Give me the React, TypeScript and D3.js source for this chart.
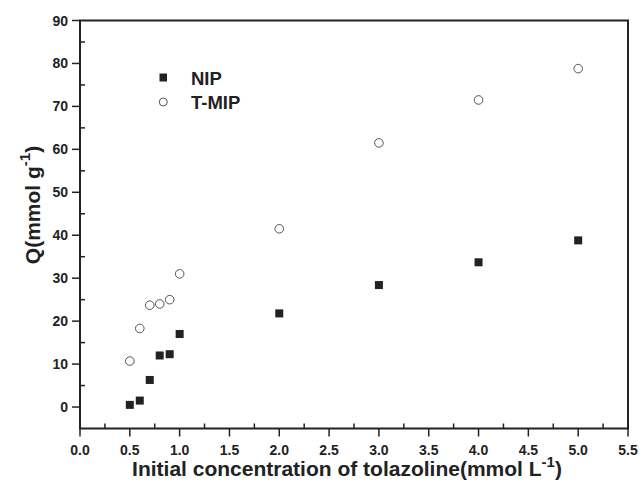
import React from "react";
import * as d3 from "d3";

const concentrations = [0.5, 0.6, 0.7, 0.8, 0.9, 1.0, 2.0, 3.0, 4.0, 5.0];
const nipValues = [0.5, 1.5, 6.3, 12.0, 12.3, 17.0, 21.8, 28.4, 33.7, 38.8];
const tmipValues = [10.7, 18.3, 23.7, 24.0, 25.0, 31.0, 41.5, 61.5, 71.5, 78.8];
const xTicks = [0, 0.5, 1, 1.5, 2, 2.5, 3, 3.5, 4, 4.5, 5, 5.5];
const xMinorTicks = [0.25, 0.75, 1.25, 1.75, 2.25, 2.75, 3.25, 3.75, 4.25, 4.75, 5.25];
const yTicks = [0, 10, 20, 30, 40, 50, 60, 70, 80, 90];
const yMinorTicks = [5, 15, 25, 35, 45, 55, 65, 75, 85];

const W = 640, H = 483;
const L = 80, R = 628, T = 20.5, B = 428.5;
const ink = "#222";
const font = "'Liberation Sans', Arial, sans-serif";

export default function App() {
  const x = d3.scaleLinear().domain([0, 5.5]).range([L, R]);
  const y = d3.scaleLinear().domain([-5, 90]).range([B, T]);
  return (
    <svg width={W} height={H} style={{ position: "absolute", left: 0, top: 0 }} fontFamily={font}>
      <rect x={0} y={0} width={W} height={H} fill="#fff" />
      <rect x={L} y={T} width={R - L} height={B - T} fill="none" stroke={ink} strokeWidth={2} />
      {xTicks.map((t) => (
        <g key={"x" + t}>
          <line x1={x(t)} x2={x(t)} y1={B} y2={B + 8} stroke={ink} strokeWidth={1.5} />
          <text x={x(t)} y={455} textAnchor="middle" fontSize={14} fontWeight="bold" fill={ink}>
            {t.toFixed(1)}
          </text>
        </g>
      ))}
      {xMinorTicks.map((t) => (
        <line key={"xm" + t} x1={x(t)} x2={x(t)} y1={B} y2={B - 5} stroke={ink} strokeWidth={1.5} />
      ))}
      {yTicks.map((t) => (
        <g key={"y" + t}>
          <line x1={L - 8} x2={L} y1={y(t)} y2={y(t)} stroke={ink} strokeWidth={1.5} />
          <text x={L - 12} y={y(t) + 5} textAnchor="end" fontSize={14} fontWeight="bold" fill={ink}>
            {t}
          </text>
        </g>
      ))}
      {yMinorTicks.map((t) => (
        <line key={"ym" + t} x1={L} x2={L + 5} y1={y(t)} y2={y(t)} stroke={ink} strokeWidth={1.5} />
      ))}
      {concentrations.map((c, i) => (
        <rect key={"n" + i} x={x(c) - 4} y={y(nipValues[i]) - 4} width={8} height={8} fill={ink} />
      ))}
      {concentrations.map((c, i) => (
        <circle key={"t" + i} cx={x(c)} cy={y(tmipValues[i])} r={4.3} fill="none" stroke="#555" strokeWidth={1} />
      ))}
      <rect x={159.5} y={73.5} width={7.5} height={8} fill={ink} />
      <text x={191} y={84.5} fontSize={18.5} fontWeight="bold" fill={ink}>NIP</text>
      <circle cx={163.3} cy={102} r={4} fill="none" stroke="#555" strokeWidth={1} />
      <text x={191} y={108.5} fontSize={18.5} fontWeight="bold" fill={ink}>T-MIP</text>
      <text x={347} y={476} textAnchor="middle" fontSize={21} fontWeight="bold" fill={ink}>
        Initial concentration of tolazoline(mmol L
        <tspan dy={-9} fontSize={15}>-1</tspan>
        <tspan dy={9}>)</tspan>
      </text>
      <text transform="translate(40,205) rotate(-90)" textAnchor="middle" fontSize={21} fontWeight="bold" fill={ink}>
        Q(mmol g
        <tspan dy={-10} fontSize={15}>-1</tspan>
        <tspan dy={10}>)</tspan>
      </text>
    </svg>
  );
}
